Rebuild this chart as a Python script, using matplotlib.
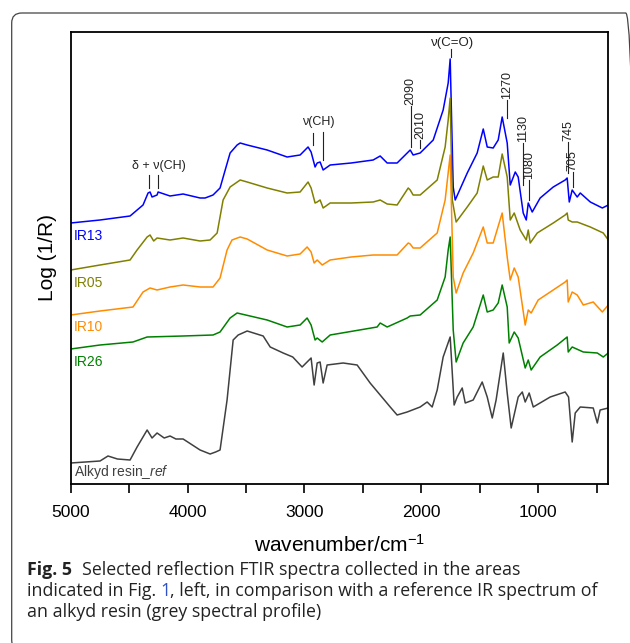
import matplotlib
matplotlib.use("Agg")
import matplotlib.pyplot as plt
from matplotlib.patches import FancyBboxPatch

plt.rcParams["font.family"] = ["Liberation Sans", "DejaVu Sans"]
plt.rcParams["mathtext.fontset"] = "custom"
plt.rcParams["mathtext.rm"] = "Liberation Sans"
plt.rcParams["mathtext.it"] = "Liberation Sans:italic"
plt.rcParams["mathtext.bf"] = "Liberation Sans:bold"

# spectra: wavenumber (cm-1) and offset Log(1/R) in arbitrary units
IR13_WN = [5000, 4749, 4492, 4381, 4338, 4321, 4304, 4261, 4252, 4150, 4038, 3893, 3850, 3782,
           3722, 3678, 3636, 3576, 3550, 3490, 3319, 3148, 3037, 2969, 2943, 2909, 2891, 2866,
           2840, 2780, 2600, 2412, 2352, 2292, 2207, 2112, 2095, 2070, 2010, 1898, 1813, 1770,
           1753, 1727, 1710, 1607, 1522, 1470, 1436, 1385, 1342, 1308, 1265, 1239, 1196, 1171,
           1128, 1102, 1085, 1051, 983, 871, 769, 752, 734, 709, 666, 640, 554, 451, 400]
IR13_Y = [261, 264, 268, 279, 291, 292, 287, 289, 292, 288, 290, 286, 286, 289,
          296, 314, 331, 339, 341, 339, 334, 327, 329, 337, 332, 317, 321, 322,
          314, 319, 321, 324, 328, 321, 321, 332, 334, 329, 331, 344, 374, 401,
          425, 297, 284, 311, 331, 355, 337, 336, 344, 367, 341, 299, 312, 307,
          271, 264, 281, 272, 286, 297, 304, 306, 282, 294, 287, 291, 282, 276, 279]

IR05_WN = [5000, 4749, 4492, 4432, 4346, 4321, 4290, 4261, 4150, 4038, 3893, 3807, 3747, 3696,
           3636, 3550, 3490, 3319, 3148, 3037, 2969, 2943, 2909, 2891, 2866, 2840, 2780, 2600,
           2412, 2352, 2292, 2207, 2112, 2095, 2070, 2010, 1864, 1796, 1770, 1753, 1735, 1702,
           1607, 1522, 1470, 1436, 1385, 1342, 1308, 1265, 1239, 1205, 1154, 1102, 1085, 1068,
           1008, 871, 769, 752, 743, 709, 666, 554, 443, 400]
IR05_Y = [214, 219, 224, 234, 247, 249, 243, 246, 244, 246, 243, 244, 251, 284,
          297, 304, 302, 296, 291, 292, 302, 296, 281, 282, 284, 276, 281, 281,
          282, 284, 280, 279, 296, 294, 289, 289, 304, 337, 364, 386, 284, 262,
          277, 291, 318, 304, 307, 307, 330, 307, 264, 271, 254, 244, 254, 241,
          251, 261, 269, 271, 264, 262, 262, 257, 251, 244]

IR10_WN = [5000, 4749, 4467, 4381, 4321, 4261, 4150, 4038, 3893, 3782, 3722, 3662, 3620, 3550,
           3490, 3319, 3148, 3037, 2977, 2943, 2917, 2891, 2848, 2780, 2600, 2412, 2207, 2112,
           2095, 2070, 2010, 1864, 1796, 1753, 1727, 1702, 1642, 1556, 1470, 1436, 1385, 1308,
           1265, 1239, 1205, 1171, 1111, 1085, 1060, 1000, 897, 769, 752, 743, 709, 666,
           614, 529, 451, 400]
IR10_Y = [169, 173, 177, 192, 196, 194, 197, 199, 197, 197, 206, 234, 244, 247,
          245, 234, 228, 230, 237, 232, 221, 224, 219, 224, 227, 229, 229, 241,
          240, 236, 236, 251, 284, 329, 207, 191, 211, 231, 257, 241, 241, 271,
          227, 204, 216, 207, 159, 174, 171, 184, 192, 202, 204, 182, 192, 189,
          179, 182, 172, 179]

IR26_WN = [5000, 4749, 4467, 4346, 4038, 3782, 3722, 3636, 3576, 3319, 3148, 3037, 2977, 2943,
           2909, 2891, 2848, 2780, 2378, 2352, 2292, 2121, 2095, 2010, 1864, 1796, 1770, 1753,
           1727, 1702, 1642, 1556, 1470, 1436, 1385, 1342, 1308, 1265, 1248, 1205, 1171, 1111,
           1085, 1060, 983, 837, 752, 743, 709, 614, 494, 443, 400]
IR26_Y = [135, 139, 142, 147, 148, 149, 152, 166, 171, 164, 157, 159, 166, 159,
          144, 146, 142, 149, 157, 161, 157, 166, 168, 169, 184, 207, 234, 247,
          154, 122, 141, 157, 189, 172, 174, 181, 199, 177, 141, 152, 146, 116,
          124, 114, 127, 139, 147, 132, 137, 132, 131, 127, 131]

ALKYD_WN = [5000, 4749, 4681, 4600, 4492, 4432, 4346, 4304, 4261, 4200, 4150, 4100, 4038, 3893,
            3807, 3760, 3722, 3662, 3610, 3567, 3490, 3353, 3293, 3182, 3100, 3020, 2943, 2917,
            2891, 2866, 2840, 2806, 2669, 2549, 2438, 2352, 2266, 2207, 2121, 2010, 1950, 1907,
            1864, 1813, 1753, 1719, 1693, 1650, 1624, 1556, 1479, 1436, 1393, 1360, 1299, 1265,
            1231, 1171, 1136, 1111, 1077, 1042, 897, 769, 740, 709, 683, 640, 529, 494, 470, 400]
ALKYD_Y = [21, 23, 28, 25, 24, 37, 54, 46, 51, 46, 48, 45, 45, 34,
           30, 32, 34, 84, 144, 149, 153, 148, 137, 131, 127, 117, 126, 99,
           121, 122, 101, 119, 121, 119, 101, 89, 77, 69, 72, 77, 82, 77,
           94, 127, 147, 79, 87, 96, 81, 84, 102, 87, 66, 84, 131, 91,
           56, 87, 92, 82, 91, 77, 87, 92, 87, 42, 71, 77, 76, 61, 74, 76]

SERIES = [
    ("IR13", IR13_WN, IR13_Y, "#0000FF", 248),
    ("IR05", IR05_WN, IR05_Y, "#808000", 201),
    ("IR10", IR10_WN, IR10_Y, "#FF8C00", 157),
    ("IR26", IR26_WN, IR26_Y, "#008000", 122),
    (r"Alkyd resin_$\mathit{ref}$", ALKYD_WN, ALKYD_Y, "#404040", 12),
]

# band markers: wavenumber, line bottom, line top, label
BANDS = [(2090, 337, 378, "2090"), (2010, 336, 344, "2010"), (1270, 366, 384, "1270"),
         (1130, 299, 341, "1130"), (1080, 284, 304, "1080"), (745, 311, 342, "745"),
         (705, 297, 312, "705")]

W, H = 630, 643
fig = plt.figure(figsize=(W / 100, H / 100), dpi=100)

# rounded frame around figure + caption (right and bottom edges fall off the page)
frame = FancyBboxPatch((0.117, -0.07), 6.24, 6.37, boxstyle="round,pad=0,rounding_size=0.1",
                       transform=fig.dpi_scale_trans, fc="none", ec="#444444", lw=0.9)
fig.patches.append(frame)

ax = fig.add_axes([70.7 / W, (H - 484) / H, (608.3 - 70.7) / W, (484 - 31.5) / H])
for name, wn, y, color, ly in SERIES:
    ax.plot(wn, y, color=color, lw=1.1)
    ax.text(4975, ly, name, color=color, fontsize=10, va="center", ha="left")

ink = "#222222"
for wn, y0, y1, lab in BANDS:
    ax.plot([wn, wn], [y0, y1], color=ink, lw=0.8)
    ax.text(wn, y1 + 1, lab, rotation=90, ha="center", va="bottom", fontsize=9, color=ink)

for wn in (4330, 4250):
    ax.plot([wn, wn], [296, 309], color=ink, lw=0.8)
ax.text(4245, 318, "δ + ν(CH)", ha="center", va="center", fontsize=9, color=ink)
ax.plot([2926, 2926], [339, 351], color=ink, lw=0.8)
ax.plot([2840, 2840], [324, 352], color=ink, lw=0.8)
ax.text(2882, 362, "ν(CH)", ha="center", va="center", fontsize=9, color=ink)
ax.plot([1748, 1748], [427, 435], color=ink, lw=0.8)
ax.text(1735, 441, "ν(C=O)", ha="center", va="center", fontsize=9.5, color=ink)

ax.set_xlim(5000, 400)
ax.set_ylim(0, 452.5)
ax.set_yticks([])
ax.set_xticks([5000, 4000, 3000, 2000, 1000])
ax.set_xticks([4500, 3500, 2500, 1500, 500], minor=True)
ax.tick_params(axis="x", which="both", direction="out", length=6.2, width=1.2,
               labelsize=12.5, pad=9)
for sp in ax.spines.values():
    sp.set_linewidth(1.3)
ax.set_ylabel("Log (1/R)", fontsize=15, labelpad=10)
ax.set_xlabel("wavenumber/cm$^{-1}$", fontsize=15)
ax.xaxis.set_label_coords(0.5, -(545 - 484) / 452.5)
ax.xaxis.label.set_va("center")

# caption, built piece by piece
fig.canvas.draw()
renderer = fig.canvas.get_renderer()
inv = fig.transFigure.inverted()
CAP = dict(family=["Open Sans", "DejaVu Sans"], fontsize=12.8, color="#222222")


def caption_line(y_px, parts):
    x = 27 / W
    for gap, s, kw in parts:
        x += gap / W
        t = fig.text(x, 1 - y_px / H, s, va="baseline", ha="left", **{**CAP, **kw})
        bb = t.get_window_extent(renderer)
        x = inv.transform((bb.x1, bb.y0))[0]


caption_line(575, [(0, "Fig. 5", {"weight": "bold"}),
                   (10, "Selected reflection FTIR spectra collected in the areas", {})])
caption_line(596, [(0, "indicated in Fig.", {}), (4, "1", {"color": "#3050C8"}),
                   (0, ", left, in comparison with a reference IR spectrum of", {})])
caption_line(617, [(0, "an alkyd resin (grey spectral profile)", {})])

fig.savefig("out.png", dpi=100)
